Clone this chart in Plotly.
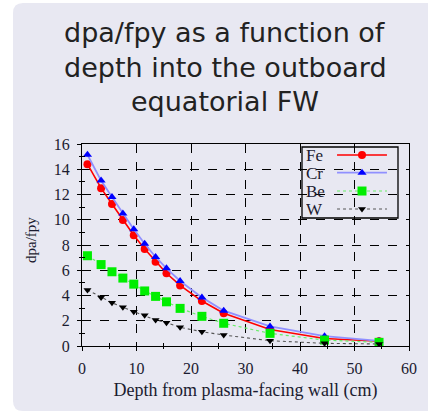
import plotly.graph_objects as go

# ---- data ----
depth = [1, 3.5, 5.5, 7.5, 9.5, 11.5, 13.5, 15.5, 18, 22, 26, 34.5, 44.5, 54.5]
fe = [14.4, 12.5, 11.25, 9.98, 8.77, 7.68, 6.68, 5.76, 4.8, 3.56, 2.59, 1.3, 0.6, 0.38]
cr = [15.15, 13.1, 11.8, 10.5, 9.25, 8.1, 7.05, 6.15, 5.15, 3.85, 2.8, 1.55, 0.78, 0.4]
be = [7.15, 6.45, 5.88, 5.38, 4.9, 4.36, 3.93, 3.5, 2.98, 2.35, 1.8, 1.0, 0.47, 0.29]
w = [4.44, 3.85, 3.43, 3.06, 2.72, 2.43, 2.06, 1.85, 1.48, 1.13, 0.87, 0.42, 0.21, 0.16]
series_names = ["Fe", "Cr", "Be", "W"]
x_ticks = [0, 10, 20, 30, 40, 50, 60]
y_ticks = [0, 2, 4, 6, 8, 10, 12, 14, 16]
title_lines = ["dpa/fpy as a function of", "depth into the outboard", "equatorial FW"]

PANEL = "#e8e8f2"
SERIF = "Liberation Serif, DejaVu Serif, serif"
TXT = "#1b1b30"

styles = [
    dict(line=dict(color="#ff0000", width=1.6), marker=dict(symbol="circle", size=8, color="#ff0000")),
    dict(line=dict(color="#9090ff", width=1.8), marker=dict(symbol="triangle-up", size=8, color="#0000ff")),
    dict(line=dict(color="#66ee66", width=1.2, dash="dot"), marker=dict(symbol="square", size=9, color="#00ee00")),
    dict(line=dict(color="#555555", width=1.1, dash="dot"), marker=dict(symbol="triangle-down", size=7, color="#000000")),
]

fig = go.Figure()
for name, ys, st in zip(series_names, [fe, cr, be, w], styles):
    fig.add_trace(go.Scatter(x=depth, y=ys, mode="lines+markers", name=name,
                             line=st["line"], marker=st["marker"], showlegend=False,
                             xaxis="x", yaxis="y"))

# legend samples on helper axes
row_y = [0.887, 0.638, 0.380, 0.127]
for name, ry, st in zip(series_names, row_y, styles):
    fig.add_trace(go.Scatter(x=[0.365, 0.885], y=[ry, ry], mode="lines", line=st["line"],
                             showlegend=False, xaxis="x2", yaxis="y2", hoverinfo="skip"))
    fig.add_trace(go.Scatter(x=[0.625], y=[ry], mode="markers", marker=st["marker"],
                             showlegend=False, xaxis="x2", yaxis="y2", hoverinfo="skip"))
    fig.add_annotation(x=0.02, y=ry, xref="x2", yref="y2", text=name, showarrow=False,
                       xanchor="left", yanchor="middle", height=16,
                       font=dict(family=SERIF, size=17, color=TXT))

L, R, T, B = 82, 19, 144, 66
W_, H_ = 428, 412
pw, ph = W_ - L - R, H_ - T - B

def px_x(p):
    return (p - L) / pw

def px_y(p):
    return (H_ - B - p) / ph

# background panel with rounded left corners
x0, x1 = px_x(13), px_x(440)
y0, y1 = px_y(411), px_y(3)
rx, ry_ = 10 / pw, 10 / ph
panel_path = (f"M {x0+rx},{y1} L {x1},{y1} L {x1},{y0} L {x0+rx},{y0} "
              f"Q {x0},{y0} {x0},{y0+ry_} L {x0},{y1-ry_} Q {x0},{y1} {x0+rx},{y1} Z")
fig.add_shape(type="path", path=panel_path, xref="paper", yref="paper",
              fillcolor=PANEL, line=dict(width=0), layer="below")

# legend box
lx0, lx1 = px_x(302), px_x(398)
ly0, ly1 = px_y(218), px_y(147)
fig.add_shape(type="rect", x0=lx0, x1=lx1, y0=ly0, y1=ly1, xref="paper", yref="paper",
              fillcolor=PANEL, line=dict(color="black", width=1.3), layer="between")

axis_common = dict(showline=True, linecolor="black", linewidth=1.3, mirror=True,
                   gridcolor="black", griddash="dash", gridwidth=1, zeroline=False,
                   ticks="outside", ticklen=4, tickcolor="black", tickwidth=1)

fig.update_layout(
    width=W_, height=H_, autosize=False,
    margin=dict(l=L, r=R, t=T, b=B),
    paper_bgcolor="white", plot_bgcolor="rgba(0,0,0,0)",
    xaxis=dict(range=[0, 60], tickvals=x_ticks, domain=[0, 1], ticklabelstandoff=4,
               tickfont=dict(family=SERIF, size=16, color=TXT),
               minor=dict(dtick=5, tick0=0, ticks="outside", ticklen=2, tickcolor="black", showgrid=False),
               title=dict(text="Depth from plasma-facing wall (cm)", standoff=7,
                          font=dict(family=SERIF, size=18, color=TXT)),
               **axis_common),
    yaxis=dict(range=[0, 16], tickvals=y_ticks, domain=[0, 1], ticklabelstandoff=4,
               tickfont=dict(family=SERIF, size=16, color=TXT),
               minor=dict(dtick=1, tick0=0, ticks="outside", ticklen=2, tickcolor="black", showgrid=False),
               **axis_common),
    xaxis3=dict(overlaying="x", range=[0, 60], tickvals=x_ticks, ticks="inside", ticklen=4,
                tickcolor="black", showticklabels=False, showgrid=False, zeroline=False,
                minor=dict(dtick=5, tick0=0, ticks="inside", ticklen=3, tickcolor="black"),
                anchor="y"),
    yaxis3=dict(overlaying="y", range=[0, 16], tickvals=y_ticks, ticks="inside", ticklen=4,
                tickcolor="black", showticklabels=False, showgrid=False, zeroline=False,
                minor=dict(dtick=1, tick0=0, ticks="inside", ticklen=3, tickcolor="black"),
                anchor="x", side="left"),
    xaxis2=dict(domain=[lx0, lx1], range=[0, 1], visible=False, anchor="y2"),
    yaxis2=dict(domain=[ly0, ly1], range=[0, 1], visible=False, anchor="x2"),
    showlegend=False,
)

# dummy trace to activate overlay axes
fig.add_trace(go.Scatter(x=[None], y=[None], xaxis="x3", yaxis="y3", showlegend=False))

# y axis title (rotated)
fig.add_annotation(x=px_x(31), y=px_y(240), xref="paper", yref="paper", text="dpa/fpy",
                   textangle=-90, showarrow=False, xanchor="center", yanchor="middle",
                   font=dict(family=SERIF, size=15, color=TXT))

# title, one annotation per line
for line, cy in zip(title_lines, [33, 67, 101.5]):
    fig.add_annotation(x=px_x(225), y=px_y(cy), xref="paper", yref="paper",
                       text=line, showarrow=False, xanchor="center", yanchor="middle",
                       font=dict(family="DejaVu Sans, sans-serif", size=27, color="#222222"))

fig.write_html("out.html", config={"displayModeBar": False},
               post_script="document.body.style.margin='0';document.body.style.padding='0';")
